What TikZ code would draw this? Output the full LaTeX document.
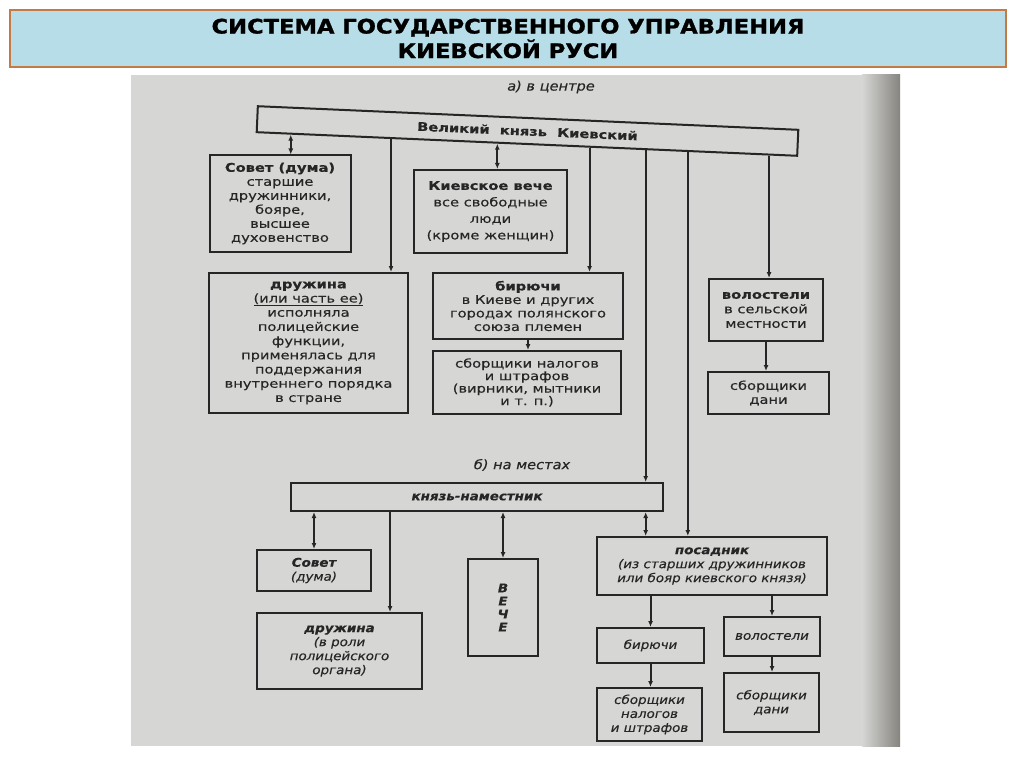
\documentclass[tikz,border=0pt]{standalone}
\usepackage{fontspec}
\setmainfont[FakeStretch=1.22,FakeBold=0.3]{DejaVu Sans}
\newfontfamily\itfont[FakeStretch=1.12,FakeBold=0.3]{DejaVu Sans}
\newfontfamily\titlefont[FakeStretch=1.13,FakeBold=1.2]{DejaVu Sans}
\usetikzlibrary{arrows.meta,calc}
\definecolor{page}{HTML}{D6D6D4}
\definecolor{pagedark}{HTML}{86847F}
\definecolor{ink}{HTML}{262626}
\definecolor{titlefill}{HTML}{B7DDE8}
\definecolor{titleborder}{HTML}{C47A45}
\tikzset{
  box/.style={draw=ink, line width=2pt, align=center, inner sep=2pt, text=ink},
  ft/.style={font=\fontsize{12}{14}\selectfont},
  fi/.style={font=\itfont\fontsize{12}{14}\selectfont\itshape},
  arr/.style={draw=ink, line width=2pt, -{Latex[length=6pt,width=5pt]}},
  darr/.style={draw=ink, line width=2pt, {Latex[length=6pt,width=5pt]}-{Latex[length=6pt,width=5pt]}},
  lbl/.style={text=ink, font=\itfont\fontsize{13}{15}\selectfont\itshape},
}
\begin{document}
\begin{tikzpicture}[x=1pt,y=-1pt]
\useasboundingbox (0,0) rectangle (1024,767);
\fill[white] (0,0) rectangle (1024,767);
% title
\node[draw=titleborder, line width=2.5pt, fill=titlefill, minimum width=996pt, minimum height=57pt, inner sep=0pt, align=center, font=\titlefont\bfseries\fontsize{20}{24.5}\selectfont] (title) at (508,38.5) {СИСТЕМА ГОСУДАРСТВЕННОГО УПРАВЛЕНИЯ\\КИЕВСКОЙ РУСИ};
% page
\fill[page] (131,75) rectangle (900,746);
\shade[left color=page, right color=pagedark] (862,75) rectangle (900,746);
% a) centre
\node[lbl] (lblA) at (551,87) {а) в центре};
\node[box, fill=page, font=\fontsize{12}{14}\selectfont\bfseries, rotate=-2.5, minimum width=541pt, minimum height=26pt] (bar) at (527.5,131) {Великий\ \ князь\ \ Киевский};
\node[box, ft, minimum width=141pt, minimum height=96pt] (sov1) at (280,203.5) {\textbf{Совет (дума)}\\старшие\\дружинники,\\бояре,\\высшее\\духовенство};
\node[box, font=\fontsize{12}{16.5}\selectfont, minimum width=153pt, minimum height=83pt] (ve1) at (490.5,211.5) {\textbf{Киевское вече}\\все свободные\\люди\\(кроме женщин)};
\node[box, font=\fontsize{12}{14.2}\selectfont, minimum width=199pt, minimum height=140pt] (dr1) at (308.5,343) {\textbf{дружина}\\\underline{(или часть ее)}\\исполняла\\полицейские\\функции,\\применялась для\\поддержания\\внутреннего порядка\\в стране};
\node[box, font=\fontsize{12}{13.5}\selectfont, minimum width=190pt, minimum height=66pt] (bir1) at (528,306) {\textbf{бирючи}\\в Киеве и других\\городах полянского\\союза племен};
\node[box, font=\fontsize{12}{12.5}\selectfont, minimum width=188pt, minimum height=63pt] (sb1) at (527,382.5) {сборщики налогов\\и штрафов\\(вирники, мытники\\и т. п.)};
\node[box, font=\fontsize{12}{14.5}\selectfont, minimum width=114pt, minimum height=62pt] (vol1) at (766,310) {\textbf{волостели}\\в сельской\\местности};
\node[box, ft, minimum width=121pt, minimum height=42pt] (dan1) at (768.5,393) {сборщики\\дани};
% b) local
\node[lbl] (lblB) at (522,465) {б) на местах};
\node[box, fi, minimum width=372pt, minimum height=28pt] (kn) at (477,497) {\textbf{князь-наместник}};
\node[box, fi, minimum width=114pt, minimum height=41pt] (sov2) at (314,570.5) {\textbf{Совет}\\(дума)};
\node[box, fi, minimum width=165pt, minimum height=76pt] (dr2) at (339.5,651) {\textbf{дружина}\\(в роли\\полицейского\\органа)};
\node[box, font=\itfont\fontsize{12}{13}\selectfont\itshape\bfseries, minimum width=70pt, minimum height=97pt] (ve2) at (503,607.5) {В\\Е\\Ч\\Е};
\node[box, fi, minimum width=230pt, minimum height=58pt] (pos) at (712,566) {\textbf{посадник}\\(из старших дружинников\\или бояр киевского князя)};
\node[box, fi, minimum width=107pt, minimum height=35pt] (bir2) at (650.5,645.5) {бирючи};
\node[box, fi, minimum width=96pt, minimum height=39pt] (vol2) at (772,636.5) {волостели};
\node[box, fi, minimum width=105pt, minimum height=53pt] (sb2) at (649.5,714.5) {сборщики\\налогов\\и штрафов};
\node[box, fi, minimum width=95pt, minimum height=59pt] (dan2) at (771.5,702.5) {сборщики\\дани};
% connector points on the bar
\coordinate (c1) at ($(bar.south west)!0.0647!(bar.south east)$);
\coordinate (c2) at ($(bar.south west)!0.2495!(bar.south east)$);
\coordinate (c3) at ($(bar.south west)!0.4455!(bar.south east)$);
\coordinate (c4) at ($(bar.south west)!0.6155!(bar.south east)$);
\coordinate (c5) at ($(bar.south west)!0.7190!(bar.south east)$);
\coordinate (c6) at ($(bar.south west)!0.7967!(bar.south east)$);
\coordinate (c7) at ($(bar.south west)!0.9464!(bar.south east)$);
\draw[darr] (c1) -- (c1 |- sov1.north);
\draw[arr] (c2) -- (c2 |- dr1.north);
\draw[darr] (c3) -- (c3 |- ve1.north);
\draw[arr] (c4) -- (c4 |- bir1.north);
\draw[arr] (c5) -- (c5 |- kn.north);
\draw[arr] (c6) -- (c6 |- pos.north);
\draw[arr] (c7) -- (c7 |- vol1.north);
\draw[arr] (bir1.south) -- (bir1.south |- sb1.north);
\draw[arr] (vol1.south) -- (vol1.south |- dan1.north);
% bottom connectors
\coordinate (k2) at ($(kn.south west)+(100,0)$);
\draw[darr] (sov2.north |- kn.south) -- (sov2.north);
\draw[arr] (k2) -- (k2 |- dr2.north);
\draw[darr] (ve2.north |- kn.south) -- (ve2.north);
\draw[darr] (c5 |- kn.south) -- (c5 |- pos.north);
\draw[arr] (pos.south -| bir2.north) -- (bir2.north);
\draw[arr] (pos.south -| vol2.north) -- (vol2.north);
\draw[arr] (bir2.south) -- (bir2.south |- sb2.north);
\draw[arr] (vol2.south) -- (vol2.south |- dan2.north);
\end{tikzpicture}
\end{document}
